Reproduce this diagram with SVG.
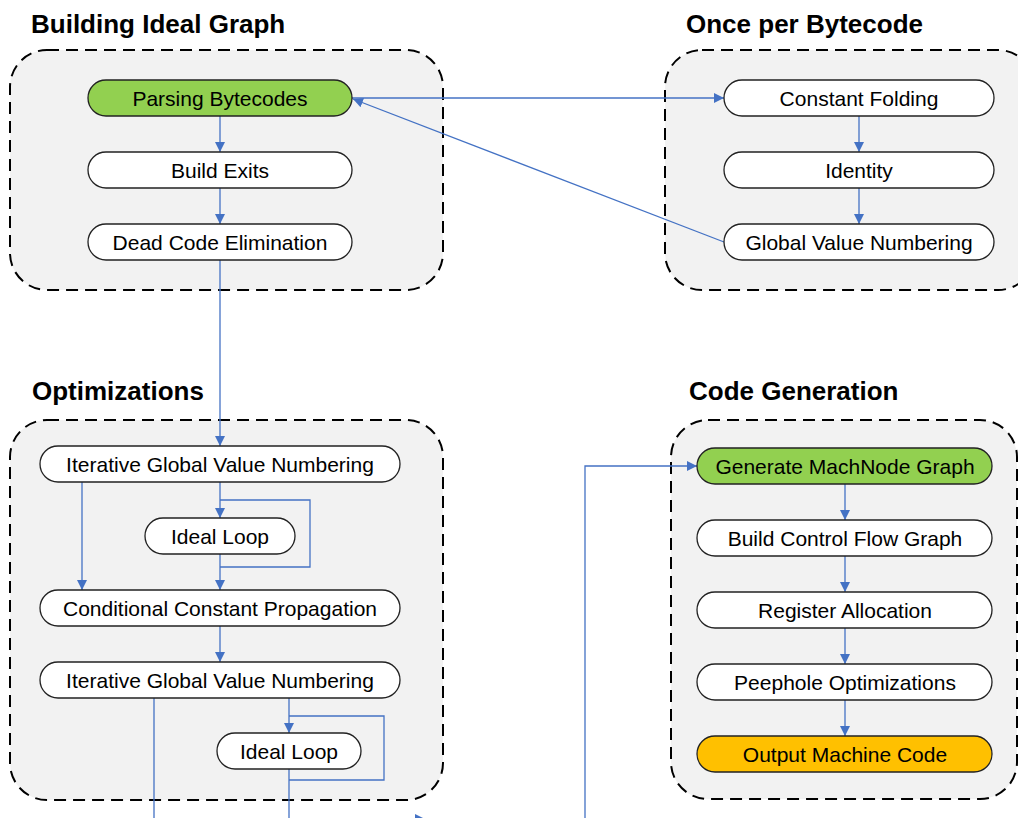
<svg xmlns="http://www.w3.org/2000/svg" width="1018" height="818" viewBox="0 0 1018 818">
<defs>
<style>
.grp{fill:#F2F2F2;stroke:#000;stroke-width:2;stroke-dasharray:12 7}
.ttl{font-family:"Liberation Sans",Arial,sans-serif;font-weight:bold;font-size:26px;fill:#000}
.nd{fill:#fff;stroke:#222;stroke-width:1.3}
.green{fill:#92D050}
.orange{fill:#FFC000}
.lbl{font-family:"Liberation Sans",Arial,sans-serif;font-size:21px;fill:#000;text-anchor:middle}
.cn{fill:none;stroke:#4472C4;stroke-width:1.3}
.ah{fill:#4472C4}
</style>
<marker id="arr" markerUnits="userSpaceOnUse" markerWidth="11" markerHeight="11" refX="10" refY="5" orient="auto">
<path d="M0,0 L10,5 L0,10 z" fill="#4472C4"/>
</marker>
</defs>
<rect width="1018" height="818" fill="#fff"/>

<g id="group-building">
<rect class="grp" x="10" y="50" width="433" height="240" rx="37"/>
<text class="ttl" x="31" y="33">Building Ideal Graph</text>
</g>
<g id="group-once">
<rect class="grp" x="665" y="50" width="370" height="240" rx="37"/>
<text class="ttl" x="686" y="33">Once per Bytecode</text>
</g>
<g id="group-opt">
<rect class="grp" x="10" y="420" width="433" height="380" rx="37"/>
<text class="ttl" x="32" y="400">Optimizations</text>
</g>
<g id="group-codegen">
<rect class="grp" x="671" y="420" width="346" height="379" rx="37"/>
<text class="ttl" x="689" y="400">Code Generation</text>
</g>

<g id="connectors">
<path class="cn" d="M220 116 V152" marker-end="url(#arr)"/>
<path class="cn" d="M220 188 V224" marker-end="url(#arr)"/>
<path class="cn" d="M220 260 V446" marker-end="url(#arr)"/>
<path class="cn" d="M352 98 H724" marker-end="url(#arr)"/>
<path class="cn" d="M724 242 L353 99" marker-end="url(#arr)"/>
<path class="cn" d="M859 116 V152" marker-end="url(#arr)"/>
<path class="cn" d="M859 188 V224" marker-end="url(#arr)"/>
<path class="cn" d="M82 482 V590" marker-end="url(#arr)"/>
<path class="cn" d="M220 482 V518" marker-end="url(#arr)"/>
<path class="cn" d="M220 500 H310 V567 H220"/>
<path class="cn" d="M220 554 V590" marker-end="url(#arr)"/>
<path class="cn" d="M220 626 V662" marker-end="url(#arr)"/>
<path class="cn" d="M289 698 V733" marker-end="url(#arr)"/>
<path class="cn" d="M289 716 H384 V780 H289"/>
<path class="cn" d="M289 769 V819"/>
<path class="cn" d="M154 698 V819 H585 V466 H697" marker-end="url(#arr)"/>
<path class="ah" d="M415 814 L425 819 L415 824 z"/>
<path class="cn" d="M845 484 V520" marker-end="url(#arr)"/>
<path class="cn" d="M845 556 V592" marker-end="url(#arr)"/>
<path class="cn" d="M845 628 V664" marker-end="url(#arr)"/>
<path class="cn" d="M845 700 V736" marker-end="url(#arr)"/>
</g>

<g id="node-parsing">
<rect class="nd green" x="88" y="80" width="264" height="36" rx="18"/>
<text class="lbl" x="220" y="105.5">Parsing Bytecodes</text>
</g>
<g id="node-build-exits">
<rect class="nd" x="88" y="152" width="264" height="36" rx="18"/>
<text class="lbl" x="220" y="177.5">Build Exits</text>
</g>
<g id="node-dce">
<rect class="nd" x="88" y="224" width="264" height="36" rx="18"/>
<text class="lbl" x="220" y="249.5">Dead Code Elimination</text>
</g>

<g id="node-const-fold">
<rect class="nd" x="724" y="80" width="270" height="36" rx="18"/>
<text class="lbl" x="859" y="105.5">Constant Folding</text>
</g>
<g id="node-identity">
<rect class="nd" x="724" y="152" width="270" height="36" rx="18"/>
<text class="lbl" x="859" y="177.5">Identity</text>
</g>
<g id="node-gvn">
<rect class="nd" x="724" y="224" width="270" height="36" rx="18"/>
<text class="lbl" x="859" y="249.5">Global Value Numbering</text>
</g>

<g id="node-igvn1">
<rect class="nd" x="40" y="446" width="360" height="36" rx="18"/>
<text class="lbl" x="220" y="471.5">Iterative Global Value Numbering</text>
</g>
<g id="node-loop1">
<rect class="nd" x="145" y="518" width="150" height="36" rx="18"/>
<text class="lbl" x="220" y="543.5">Ideal Loop</text>
</g>
<g id="node-ccp">
<rect class="nd" x="40" y="590" width="360" height="36" rx="18"/>
<text class="lbl" x="220" y="615.5">Conditional Constant Propagation</text>
</g>
<g id="node-igvn2">
<rect class="nd" x="40" y="662" width="360" height="36" rx="18"/>
<text class="lbl" x="220" y="687.5">Iterative Global Value Numbering</text>
</g>
<g id="node-loop2">
<rect class="nd" x="217" y="733" width="144" height="36" rx="18"/>
<text class="lbl" x="289" y="758.5">Ideal Loop</text>
</g>

<g id="node-machnode">
<rect class="nd green" x="697" y="448" width="295" height="36" rx="18"/>
<text class="lbl" x="845" y="473.5">Generate MachNode Graph</text>
</g>
<g id="node-cfg">
<rect class="nd" x="697" y="520" width="295" height="36" rx="18"/>
<text class="lbl" x="845" y="545.5">Build Control Flow Graph</text>
</g>
<g id="node-regalloc">
<rect class="nd" x="697" y="592" width="295" height="36" rx="18"/>
<text class="lbl" x="845" y="617.5">Register Allocation</text>
</g>
<g id="node-peephole">
<rect class="nd" x="697" y="664" width="295" height="36" rx="18"/>
<text class="lbl" x="845" y="689.5">Peephole Optimizations</text>
</g>
<g id="node-output">
<rect class="nd orange" x="697" y="736" width="295" height="36" rx="18"/>
<text class="lbl" x="845" y="761.5">Output Machine Code</text>
</g>
</svg>
